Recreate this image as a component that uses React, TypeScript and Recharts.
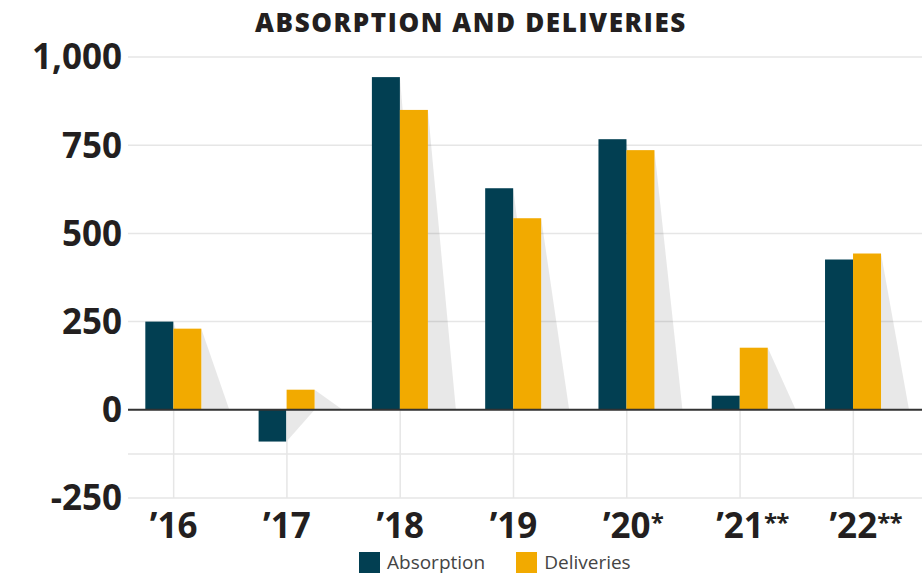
import React from "react"
import { Bar, BarChart, CartesianGrid, Legend, ReferenceLine, XAxis, YAxis } from "recharts"

const years = ["’16", "’17", "’18", "’19", "’20*", "’21**", "’22**"]
const absorption = [250, -90, 943, 628, 767, 40, 426]
const deliveries = [230, 57, 850, 543, 736, 176, 443]
const yTicks = [-250, 0, 250, 500, 750, 1000]
const gridValues = [-250, -125, 0, 250, 500, 750, 1000]

const data = years.map((year, i) => ({
  year,
  absorption: absorption[i],
  deliveries: deliveries[i],
}))

const NAVY = "#023f52"
const GOLD = "#f2aa00"
const TEXT = "#231f20"
const FONT = "'Open Sans', sans-serif"

// bar with a flat grey shadow falling to the right
function shadowShape(key: "absorption" | "deliveries", fill: string) {
  return (props: any) => {
    const { x, y, width, height } = props
    const top = Math.min(y, y + height)
    const bottom = Math.max(y, y + height)
    const right = x + width
    const negative = props.payload[key] < 0
    const points = negative
      ? `${right},${bottom} ${right + width},${top} ${right},${top}`
      : `${right},${top} ${right + width},${bottom} ${right},${bottom}`
    return (
      <g>
        <polygon points={points} fill="#000" fillOpacity={0.09} />
        <rect x={x} y={top} width={width} height={bottom - top} fill={fill} />
      </g>
    )
  }
}

function YearTick({ x, y, payload }: any) {
  const label: string = payload.value
  const base = label.replace(/\*+$/, "")
  const stars = label.slice(base.length)
  return (
    <g>
      <text x={x} y={y + 32} textAnchor="middle" fontFamily={FONT} fontWeight={700} fontSize={35} fill={TEXT}>
        {base}
      </text>
      {stars && (
        <text
          x={x + 24}
          y={y + 25}
          textAnchor="start"
          fontFamily={FONT}
          fontWeight={700}
          fontSize={24}
          letterSpacing={-1}
          fill={TEXT}
        >
          {stars}
        </text>
      )}
    </g>
  )
}

function LegendBox() {
  const items = [
    { name: "Absorption", color: NAVY },
    { name: "Deliveries", color: GOLD },
  ]
  return (
    <div style={{ display: "flex", alignItems: "center", fontFamily: FONT, fontSize: 19, lineHeight: "21px", color: "#444" }}>
      {items.map((it) => (
        <div key={it.name} style={{ display: "flex", alignItems: "center", marginRight: 31 }}>
          <span style={{ width: 21, height: 21, background: it.color, display: "inline-block", marginRight: 7 }} />
          <span>{it.name}</span>
        </div>
      ))}
    </div>
  )
}

export default function App() {
  return (
    <div style={{ position: "absolute", left: 0, top: 0, width: 922, height: 574, background: "#fff", overflow: "hidden" }}>
      <div
        style={{
          position: "absolute",
          top: 5,
          left: 0,
          width: 942,
          textAlign: "center",
          fontFamily: FONT,
          fontWeight: 800,
          fontSize: 26,
          letterSpacing: 1.6,
          color: TEXT,
          lineHeight: "34px",
        }}
      >
        ABSORPTION AND DELIVERIES
      </div>
      <BarChart
        width={922}
        height={574}
        data={data}
        margin={{ top: 57, right: 0, left: 0, bottom: 9 }}
        barGap={0}
        barCategoryGap="25%"
      >
        <CartesianGrid vertical={false} stroke="#e6e6e6" strokeWidth={1.5} horizontalValues={gridValues} />
        <XAxis
          dataKey="year"
          axisLine={false}
          tickLine={false}
          height={46}
          padding={{ left: -11, right: 12 }}
          interval={0}
          tick={<YearTick />}
        />
        <YAxis
          domain={[-250, 1000]}
          ticks={yTicks}
          axisLine={false}
          tickLine={false}
          width={128}
          tickMargin={0}
          tickFormatter={(v) => v.toLocaleString("en-US")}
          tick={{ fontFamily: FONT, fontWeight: 700, fontSize: 35, fill: TEXT }}
        />
        {years.map((yr) => (
          <ReferenceLine
            key={yr}
            segment={[
              { x: yr, y: 0 },
              { x: yr, y: -250 },
            ]}
            stroke="#e6e6e6"
            strokeWidth={1.5}
          />
        ))}
        <Bar dataKey="absorption" name="Absorption" fill={NAVY} isAnimationActive={false} shape={shadowShape("absorption", NAVY)} />
        <Bar dataKey="deliveries" name="Deliveries" fill={GOLD} isAnimationActive={false} shape={shadowShape("deliveries", GOLD)} />
        <ReferenceLine y={0} stroke="#333" strokeWidth={2} />
        <Legend
          verticalAlign="bottom"
          height={30}
          content={<LegendBox />}
          wrapperStyle={{ left: 359, top: 552, bottom: "auto", width: 320, height: 21 }}
        />
      </BarChart>
    </div>
  )
}
